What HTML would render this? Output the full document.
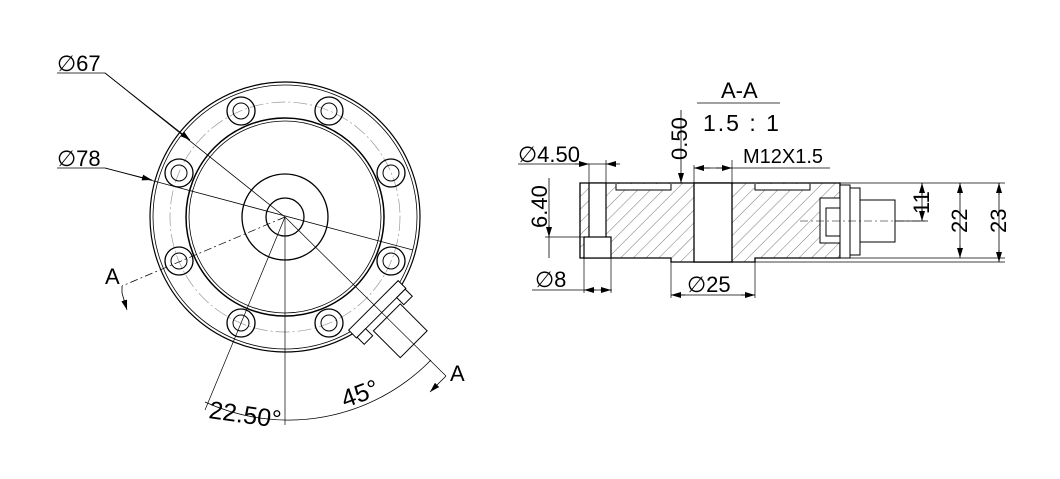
<!DOCTYPE html>
<html><head><style>body{margin:0;background:#fff}svg{display:block}text{font-family:"Liberation Sans",sans-serif;fill:#000}</style></head>
<body>
<svg width="1060" height="479" viewBox="0 0 1060 479" xmlns="http://www.w3.org/2000/svg">
<defs>
<pattern id="h" patternUnits="userSpaceOnUse" width="9" height="9" patternTransform="rotate(45)">
<rect width="9" height="9" fill="#fff"/><line x1="0" y1="0" x2="0" y2="9" stroke="#555" stroke-width="0.8"/>
</pattern>
<marker id="a" markerWidth="10" markerHeight="6" refX="10" refY="3" orient="auto" markerUnits="userSpaceOnUse"><path d="M0,0L10,3L0,6z" fill="#000"/></marker>
</defs>
<g fill="none" stroke="#000" stroke-width="1">
<circle cx="285" cy="217" r="135" stroke-width="1.2"/>
<circle cx="285" cy="217" r="132" stroke-width="0.8"/>
<circle cx="285" cy="217" r="115" stroke="#999" stroke-width="0.7" stroke-dasharray="14 3 2 3"/>
<circle cx="285" cy="217" r="99" stroke-width="1.5"/>
<circle cx="285" cy="217" r="96" stroke-width="0.8"/>
<circle cx="285" cy="217" r="43" stroke-width="1.3"/>
<circle cx="285" cy="217" r="19" stroke-width="1.3"/>
<g>
<circle cx="241" cy="111" r="14" stroke-width="1.3"/><circle cx="241" cy="111" r="8"/>
<circle cx="329" cy="111" r="14" stroke-width="1.3"/><circle cx="329" cy="111" r="8"/>
<circle cx="391" cy="173" r="14" stroke-width="1.3"/><circle cx="391" cy="173" r="8"/>
<circle cx="391" cy="261" r="14" stroke-width="1.3"/><circle cx="391" cy="261" r="8"/>
<circle cx="329" cy="323" r="14" stroke-width="1.3"/><circle cx="329" cy="323" r="8"/>
<circle cx="241" cy="323" r="14" stroke-width="1.3"/><circle cx="241" cy="323" r="8"/>
<circle cx="179" cy="261" r="14" stroke-width="1.3"/><circle cx="179" cy="261" r="8"/>
<circle cx="179" cy="173" r="14" stroke-width="1.3"/><circle cx="179" cy="173" r="8"/>
</g>
<g transform="translate(285,217) rotate(45)" fill="#fff">
<rect x="125" y="-35" width="11" height="70"/>
<rect x="136" y="-34" width="10" height="12"/>
<rect x="136" y="22" width="10" height="12"/>
<rect x="143" y="-20" width="38" height="38"/>
</g>
<polyline points="57,73 105,73 285,217" stroke-width="0.8"/>
<line x1="105" y1="73" x2="190" y2="140" marker-end="url(#a)" stroke-width="0.8"/>
<polyline points="57,168 105,168 413,250" stroke-width="0.8"/>
<line x1="105" y1="168" x2="152" y2="180" marker-end="url(#a)" stroke-width="0.8"/>
<line x1="285" y1="217" x2="122" y2="286" stroke-width="0.7" stroke-dasharray="8 3 2 3"/>
<line x1="285" y1="217" x2="446" y2="376" stroke-width="0.7"/>
<line x1="285" y1="217" x2="285" y2="425" stroke-width="0.7"/>
<line x1="285" y1="217" x2="205" y2="410" stroke-width="0.7"/>
<path d="M205,402 A200,200 0 0 0 431,360" stroke-width="0.8"/>
<line x1="122" y1="286" x2="122" y2="293" stroke-width="0.8"/>
<line x1="122" y1="293" x2="127" y2="310" marker-end="url(#a)" stroke-width="0.8"/>
<line x1="446" y1="376" x2="440" y2="382" stroke-width="0.8"/>
<line x1="440" y1="382" x2="430" y2="392" marker-end="url(#a)" stroke-width="0.8"/>
<path d="M580,183 H840 V258 H755 V262 H671 V258 H580 Z" fill="url(#h)" stroke-width="1.3"/>
<path d="M616,184 V190 H671 V184 M755,184 V190 H810 V184" fill="#fff" stroke-width="1"/>
<rect x="694" y="183" width="38" height="79" fill="#fff" stroke-width="1.3"/>
<rect x="589" y="183" width="17" height="55" fill="#fff" stroke-width="1.2"/>
<rect x="584" y="237" width="27" height="21" fill="#fff" stroke-width="1.2"/>
<rect x="820" y="198" width="20" height="45" fill="#fff"/>
<rect x="840" y="185" width="10" height="73" fill="#fff"/>
<rect x="850" y="188" width="10" height="67" fill="#fff"/>
<rect x="860" y="200" width="35" height="42" fill="#fff"/>
<rect x="826" y="208" width="14" height="28" fill="#fff"/>
<line x1="800" y1="221" x2="925" y2="221" stroke-width="0.6" stroke-dasharray="8 3 2 3"/>
<line x1="518" y1="164" x2="616" y2="164" stroke-width="0.8"/>
<line x1="589" y1="164" x2="589" y2="183" stroke-width="0.7"/>
<line x1="606" y1="160" x2="606" y2="183" stroke-width="0.7"/>
<line x1="575" y1="164" x2="589" y2="164" marker-end="url(#a)" stroke-width="0.8"/>
<line x1="620" y1="164" x2="606" y2="164" marker-end="url(#a)" stroke-width="0.8"/>
<line x1="549" y1="178" x2="549" y2="258" stroke-width="0.8"/>
<line x1="545" y1="237" x2="584" y2="237" stroke-width="0.7"/>
<line x1="549" y1="225" x2="549" y2="237" marker-end="url(#a)" stroke-width="0.8"/>
<line x1="532" y1="290" x2="612" y2="290" stroke-width="0.8"/>
<line x1="584" y1="258" x2="584" y2="293" stroke-width="0.7"/>
<line x1="611" y1="258" x2="611" y2="293" stroke-width="0.7"/>
<line x1="596" y1="290" x2="584" y2="290" marker-end="url(#a)" stroke-width="0.8"/>
<line x1="600" y1="290" x2="611" y2="290" marker-end="url(#a)" stroke-width="0.8"/>
<line x1="671" y1="262" x2="671" y2="298" stroke-width="0.7"/>
<line x1="755" y1="262" x2="755" y2="298" stroke-width="0.7"/>
<line x1="685" y1="295" x2="671" y2="295" marker-end="url(#a)" stroke-width="0.8"/>
<line x1="741" y1="295" x2="755" y2="295" marker-end="url(#a)" stroke-width="0.8"/>
<line x1="671" y1="295" x2="755" y2="295" stroke-width="0.8"/>
<line x1="694" y1="165" x2="694" y2="183" stroke-width="0.7"/>
<line x1="732" y1="160" x2="732" y2="183" stroke-width="0.7"/>
<line x1="694" y1="168" x2="830" y2="168" stroke-width="0.8"/>
<line x1="710" y1="168" x2="694" y2="168" marker-end="url(#a)" stroke-width="0.8"/>
<line x1="716" y1="168" x2="732" y2="168" marker-end="url(#a)" stroke-width="0.8"/>
<line x1="681" y1="110" x2="681" y2="183" marker-end="url(#a)" stroke-width="0.8"/>
<line x1="697" y1="103" x2="780" y2="103" stroke-width="0.8"/>
<line x1="840" y1="183" x2="1005" y2="183" stroke-width="0.7"/>
<line x1="840" y1="258" x2="1005" y2="258" stroke-width="0.7"/>
<line x1="895" y1="221" x2="928" y2="221" stroke-width="0.7"/>
<line x1="922" y1="183" x2="922" y2="221" stroke-width="0.8"/>
<line x1="922" y1="195" x2="922" y2="183" marker-end="url(#a)" stroke-width="0.8"/>
<line x1="922" y1="209" x2="922" y2="221" marker-end="url(#a)" stroke-width="0.8"/>
<line x1="960" y1="183" x2="960" y2="258" stroke-width="0.8"/>
<line x1="960" y1="195" x2="960" y2="183" marker-end="url(#a)" stroke-width="0.8"/>
<line x1="960" y1="246" x2="960" y2="258" marker-end="url(#a)" stroke-width="0.8"/>
<line x1="999" y1="183" x2="999" y2="262" stroke-width="0.8"/>
<line x1="999" y1="195" x2="999" y2="183" marker-end="url(#a)" stroke-width="0.8"/>
<line x1="999" y1="250" x2="999" y2="262" marker-end="url(#a)" stroke-width="0.8"/>
<line x1="755" y1="262" x2="1005" y2="262" stroke-width="0.7"/>
</g>
<g font-size="22">
<text x="57" y="71">∅67</text>
<text x="57" y="166">∅78</text>
<text x="105" y="284">A</text>
<text x="450" y="381">A</text>
<text x="208" y="418" font-size="25" transform="rotate(8 208 418)">22.50°</text>
<text x="345" y="408" font-size="25" transform="rotate(-20 345 408)">45°</text>
<text x="721" y="98">A-A</text>
<text x="703" y="131" font-size="23" letter-spacing="2">1.5 : 1</text>
<text x="518" y="162">∅4.50</text>
<text x="547" y="228" transform="rotate(-90 547 228)">6.40</text>
<text x="535" y="287">∅8</text>
<text x="687" y="292">∅25</text>
<text x="743" y="163" font-size="20">M12X1.5</text>
<text x="687" y="160" transform="rotate(-90 687 160)">0.50</text>
<text x="929" y="214" transform="rotate(-90 929 214)">11</text>
<text x="967" y="233" transform="rotate(-90 967 233)">22</text>
<text x="1006" y="233" transform="rotate(-90 1006 233)">23</text>
</g>
</svg>
</body></html>
